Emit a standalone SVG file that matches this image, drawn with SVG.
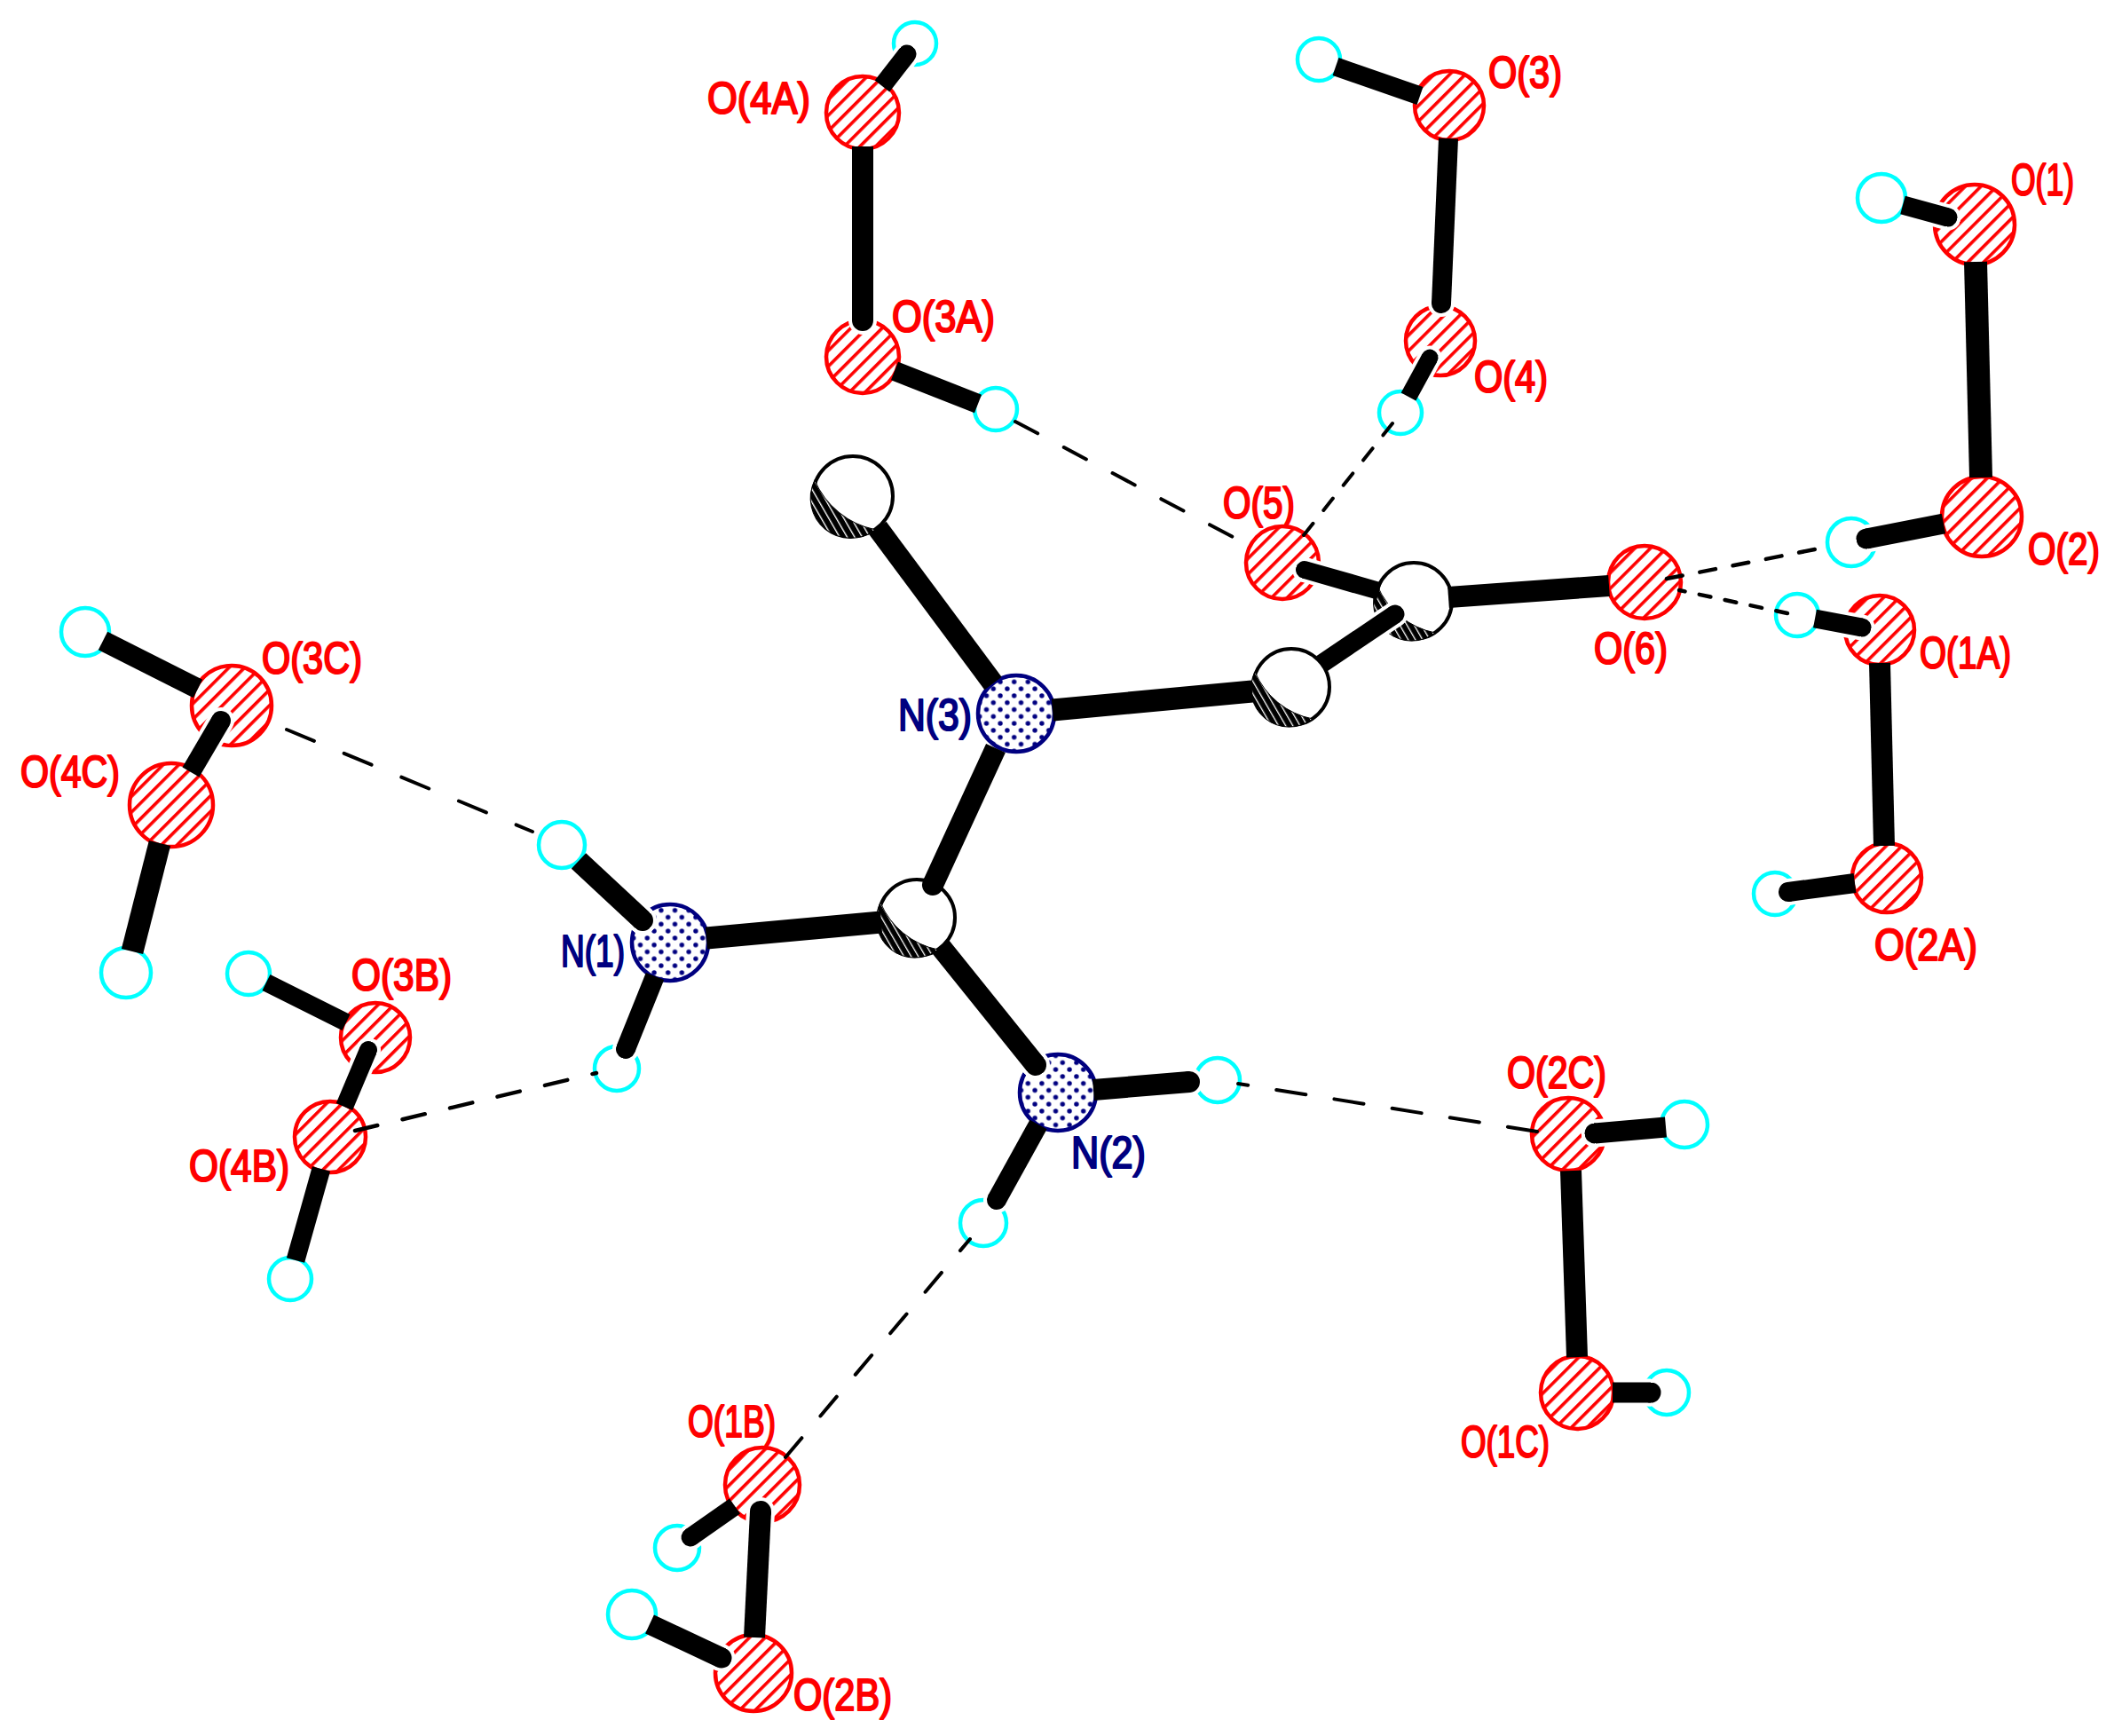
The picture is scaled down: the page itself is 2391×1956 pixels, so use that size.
<svg xmlns="http://www.w3.org/2000/svg" xmlns:xlink="http://www.w3.org/1999/xlink" width="2391" height="1956" viewBox="0 0 2391 1956">
<style>
.o{fill:url(#hatch);stroke:#ff0000;stroke-width:4.5}
.n{fill:url(#dots);stroke:#000080;stroke-width:4.5}
.h{fill:#ffffff;stroke:#00ffff;stroke-width:4.5}
.c{fill:#ffffff;stroke:#000000;stroke-width:4}
text{font-family:"Liberation Sans",Arial,sans-serif;font-size:50px;stroke-width:2.2;stroke-linejoin:round}
.lo{fill:#ff0000;stroke:#ff0000}
.ln{fill:#000080;stroke:#000080}
line{fill:none}
.b{stroke:#000000}
.f{stroke:#000000;marker-end:url(#cap)}
.w{stroke:#ffffff;marker-end:url(#capw)}
.d{stroke:#000000;stroke-linecap:round}
</style>
<defs>
<pattern id="hatch" patternUnits="userSpaceOnUse" width="12.5" height="12.5" patternTransform="rotate(45)"><rect width="12.5" height="12.5" fill="#ffffff"/><rect x="0" width="3.6" height="12.5" fill="#ff0000"/></pattern>
<pattern id="dots" patternUnits="userSpaceOnUse" width="15.6" height="15.6"><rect width="15.6" height="15.6" fill="#ffffff"/><circle cx="3.9" cy="3.9" r="2.7" fill="#000080"/><circle cx="11.7" cy="11.7" r="2.7" fill="#000080"/></pattern>
<pattern id="shade" patternUnits="userSpaceOnUse" width="7" height="7" patternTransform="rotate(-30)"><rect width="7" height="7" fill="#000000"/><rect width="1.3" height="7" fill="#ffffff"/></pattern>
<marker id="cap" viewBox="-1 -1 2 2" markerWidth="1" markerHeight="1" orient="auto"><circle r="1" fill="#000000"/></marker>
<marker id="capw" viewBox="-1 -1 2 2" markerWidth="1" markerHeight="1" orient="auto"><circle r="1" fill="#ffffff"/></marker>
<path id="crescent" d="M-41 -17A43 43 0 0 0 24 36A90 90 0 0 1 -41 -17Z" fill="url(#shade)" stroke="#000000" stroke-width="1"/>
</defs>
<rect width="2391" height="1956" fill="#ffffff"/>
<g id="nodes">
<g id="O1"><circle class="o" cx="2225" cy="253" r="45"/><text class="lo" x="2266" y="220" textLength="71" lengthAdjust="spacingAndGlyphs">O(1)</text></g>
<g id="O2"><circle class="o" cx="2233" cy="582" r="45"/><text class="lo" x="2285" y="636" textLength="81" lengthAdjust="spacingAndGlyphs">O(2)</text></g>
<g id="O3"><circle class="o" cx="1633" cy="119" r="39"/><text class="lo" x="1677" y="99" textLength="83" lengthAdjust="spacingAndGlyphs">O(3)</text></g>
<g id="O4"><circle class="o" cx="1623" cy="384" r="39"/><text class="lo" x="1661" y="442" textLength="83" lengthAdjust="spacingAndGlyphs">O(4)</text></g>
<g id="O5"><circle class="o" cx="1445" cy="634" r="41"/><text class="lo" x="1378" y="584" textLength="81" lengthAdjust="spacingAndGlyphs">O(5)</text></g>
<g id="O6"><circle class="o" cx="1853" cy="656" r="41"/><text class="lo" x="1796" y="748" textLength="83" lengthAdjust="spacingAndGlyphs">O(6)</text></g>
<g id="O1A"><circle class="o" cx="2118" cy="710" r="39"/><text class="lo" x="2163" y="753" textLength="103" lengthAdjust="spacingAndGlyphs">O(1A)</text></g>
<g id="O2A"><circle class="o" cx="2126" cy="989" r="39"/><text class="lo" x="2112" y="1082" textLength="116" lengthAdjust="spacingAndGlyphs">O(2A)</text></g>
<g id="O1B"><circle class="o" cx="859" cy="1673" r="42"/><text class="lo" x="775" y="1619" textLength="99" lengthAdjust="spacingAndGlyphs">O(1B)</text></g>
<g id="O2B"><circle class="o" cx="849" cy="1885" r="43"/><text class="lo" x="894" y="1927" textLength="111" lengthAdjust="spacingAndGlyphs">O(2B)</text></g>
<g id="O1C"><circle class="o" cx="1777" cy="1569" r="41"/><text class="lo" x="1646" y="1642" textLength="100" lengthAdjust="spacingAndGlyphs">O(1C)</text></g>
<g id="O2C"><circle class="o" cx="1767" cy="1278" r="41"/><text class="lo" x="1698" y="1226" textLength="112" lengthAdjust="spacingAndGlyphs">O(2C)</text></g>
<g id="O3A"><circle class="o" cx="972" cy="402" r="41"/><text class="lo" x="1005" y="374" textLength="116" lengthAdjust="spacingAndGlyphs">O(3A)</text></g>
<g id="O4A"><circle class="o" cx="972" cy="127" r="41"/><text class="lo" x="797" y="128" textLength="116" lengthAdjust="spacingAndGlyphs">O(4A)</text></g>
<g id="O3B"><circle class="o" cx="423" cy="1169" r="39"/><text class="lo" x="396" y="1116" textLength="113" lengthAdjust="spacingAndGlyphs">O(3B)</text></g>
<g id="O4B"><circle class="o" cx="372" cy="1281" r="40"/><text class="lo" x="213" y="1331" textLength="113" lengthAdjust="spacingAndGlyphs">O(4B)</text></g>
<g id="O3C"><circle class="o" cx="261" cy="795" r="45"/><text class="lo" x="295" y="759" textLength="113" lengthAdjust="spacingAndGlyphs">O(3C)</text></g>
<g id="O4C"><circle class="o" cx="193" cy="907" r="47"/><text class="lo" x="23" y="887" textLength="112" lengthAdjust="spacingAndGlyphs">O(4C)</text></g>
<g id="N1"><circle class="n" cx="755" cy="1062" r="43"/><text class="ln" x="632" y="1089" textLength="72" lengthAdjust="spacingAndGlyphs">N(1)</text></g>
<g id="N2"><circle class="n" cx="1192" cy="1231" r="43"/><text class="ln" x="1207" y="1316" textLength="84" lengthAdjust="spacingAndGlyphs">N(2)</text></g>
<g id="N3"><circle class="n" cx="1145" cy="804" r="43"/><text class="ln" x="1012" y="823" textLength="83" lengthAdjust="spacingAndGlyphs">N(3)</text></g>
<g id="C1"><circle class="c" cx="1033" cy="1034" r="43"/><use href="#crescent" transform="translate(1033 1034)"/></g>
<g id="C2"><circle class="c" cx="1455" cy="774" r="43"/><use href="#crescent" transform="translate(1455 774)"/></g>
<g id="C3"><circle class="c" cx="1593" cy="677" r="43"/><use href="#crescent" transform="translate(1593 677)"/></g>
<g id="C4"><circle class="c" cx="961" cy="559" r="45"/><use href="#crescent" transform="translate(961 559) scale(1.05)"/></g>
<g id="H1"><circle class="h" cx="2120" cy="223" r="27"/></g>
<g id="H2"><circle class="h" cx="2086" cy="611" r="27"/></g>
<g id="H3"><circle class="h" cx="1486" cy="67" r="24"/></g>
<g id="H4"><circle class="h" cx="1578" cy="465" r="24"/></g>
<g id="H1A"><circle class="h" cx="2025" cy="693" r="24"/></g>
<g id="H2A"><circle class="h" cx="2000" cy="1007" r="24"/></g>
<g id="H3A"><circle class="h" cx="1122" cy="461" r="24"/></g>
<g id="H4A"><circle class="h" cx="1031" cy="49" r="24"/></g>
<g id="H1B"><circle class="h" cx="763" cy="1744" r="25"/></g>
<g id="H2B"><circle class="h" cx="712" cy="1819" r="27"/></g>
<g id="H1C"><circle class="h" cx="1878" cy="1569" r="25"/></g>
<g id="H2C"><circle class="h" cx="1898" cy="1267" r="26"/></g>
<g id="H3B"><circle class="h" cx="280" cy="1097" r="24"/></g>
<g id="H4B"><circle class="h" cx="327" cy="1441" r="24"/></g>
<g id="H3C"><circle class="h" cx="96" cy="712" r="27"/></g>
<g id="H4C"><circle class="h" cx="142" cy="1096" r="28"/></g>
<g id="HN1a"><circle class="h" cx="633" cy="952" r="26"/></g>
<g id="HN1b"><circle class="h" cx="695" cy="1204" r="25"/></g>
<g id="HN2a"><circle class="h" cx="1372" cy="1217" r="25"/></g>
<g id="HN2b"><circle class="h" cx="1108" cy="1378" r="26"/></g>
</g>
<g id="connectors">
<line class="b" x1="2226" y1="295" x2="2232" y2="538" stroke-width="26"/>
<line class="b" x1="1632" y1="673" x2="1813" y2="660" stroke-width="24"/>
<line class="b" x1="1411" y1="779" x2="1186" y2="800" stroke-width="25"/>
<line class="b" x1="989" y1="595" x2="1119" y2="770" stroke-width="24"/>
<line class="b" x1="993" y1="1039" x2="796" y2="1057" stroke-width="25"/>
<line class="b" x1="116" y1="722" x2="223" y2="776" stroke-width="23"/>
<line class="b" x1="300" y1="1107" x2="390" y2="1152" stroke-width="20"/>
<line class="b" x1="362" y1="1317" x2="333" y2="1420" stroke-width="21"/>
<line class="b" x1="180" y1="950" x2="149" y2="1072" stroke-width="25"/>
<line class="b" x1="1008" y1="418" x2="1102" y2="455" stroke-width="22"/>
<line class="b" x1="1505" y1="75" x2="1600" y2="108" stroke-width="21"/>
<line class="b" x1="1770" y1="1319" x2="1777" y2="1529" stroke-width="24"/>
<line class="b" x1="2118" y1="747" x2="2123" y2="953" stroke-width="24"/>
<line class="w" x1="2170" y1="238" x2="2195" y2="245" stroke-width="29"/><line class="f" x1="2144" y1="231" x2="2195" y2="245" stroke-width="21"/>
<line class="w" x1="2146" y1="599" x2="2103" y2="607" stroke-width="31"/><line class="f" x1="2190" y1="590" x2="2103" y2="607" stroke-width="23"/>
<line class="w" x1="2071" y1="702" x2="2098" y2="707" stroke-width="29"/><line class="f" x1="2045" y1="697" x2="2098" y2="707" stroke-width="21"/>
<line class="w" x1="2052" y1="1000" x2="2015" y2="1005" stroke-width="30"/><line class="f" x1="2090" y1="995" x2="2015" y2="1005" stroke-width="22"/>
<line class="w" x1="1512" y1="654" x2="1470" y2="642" stroke-width="28"/><line class="f" x1="1554" y1="666" x2="1470" y2="642" stroke-width="20"/>
<line class="w" x1="1530" y1="720" x2="1572" y2="692" stroke-width="29"/><line class="f" x1="1489" y1="748" x2="1572" y2="692" stroke-width="21"/>
<line class="f" x1="1122" y1="843" x2="1051" y2="997" stroke-width="24"/>
<line class="w" x1="1113" y1="1133" x2="1167" y2="1200" stroke-width="32"/><line class="f" x1="1060" y1="1067" x2="1167" y2="1200" stroke-width="24"/>
<line class="w" x1="688" y1="1003" x2="724" y2="1037" stroke-width="32"/><line class="f" x1="652" y1="970" x2="724" y2="1037" stroke-width="24"/>
<line class="w" x1="721" y1="1141" x2="705" y2="1182" stroke-width="30"/><line class="f" x1="738" y1="1100" x2="705" y2="1182" stroke-width="22"/>
<line class="w" x1="1286" y1="1223" x2="1340" y2="1219" stroke-width="32"/><line class="f" x1="1232" y1="1228" x2="1340" y2="1219" stroke-width="24"/>
<line class="w" x1="1146" y1="1310" x2="1123" y2="1352" stroke-width="30"/><line class="f" x1="1170" y1="1267" x2="1123" y2="1352" stroke-width="22"/>
<line class="w" x1="232" y1="841" x2="249" y2="812" stroke-width="30"/><line class="f" x1="215" y1="870" x2="249" y2="812" stroke-width="22"/>
<line class="w" x1="401" y1="1215" x2="415" y2="1183" stroke-width="28"/><line class="f" x1="388" y1="1247" x2="415" y2="1183" stroke-width="20"/>
<line class="w" x1="803" y1="1714" x2="778" y2="1732" stroke-width="29"/><line class="f" x1="828" y1="1697" x2="778" y2="1732" stroke-width="21"/>
<line class="w" x1="853" y1="1774" x2="857" y2="1703" stroke-width="32"/><line class="f" x1="850" y1="1845" x2="857" y2="1703" stroke-width="24"/>
<line class="w" x1="772" y1="1849" x2="813" y2="1868" stroke-width="31"/><line class="f" x1="732" y1="1830" x2="813" y2="1868" stroke-width="23"/>
<line class="w" x1="1008" y1="79" x2="1022" y2="61" stroke-width="29"/><line class="f" x1="994" y1="97" x2="1022" y2="61" stroke-width="21"/>
<line class="w" x1="972" y1="263" x2="972" y2="361" stroke-width="32"/><line class="f" x1="972" y1="165" x2="972" y2="361" stroke-width="24"/>
<line class="w" x1="1628" y1="249" x2="1624" y2="342" stroke-width="30"/><line class="f" x1="1632" y1="156" x2="1624" y2="342" stroke-width="22"/>
<line class="w" x1="1599" y1="425" x2="1611" y2="403" stroke-width="27"/><line class="f" x1="1587" y1="447" x2="1611" y2="403" stroke-width="19"/>
<line class="w" x1="1837" y1="1273" x2="1797" y2="1277" stroke-width="31"/><line class="f" x1="1877" y1="1270" x2="1797" y2="1277" stroke-width="23"/>
<line class="w" x1="1838" y1="1569" x2="1860" y2="1569" stroke-width="31"/><line class="f" x1="1817" y1="1569" x2="1860" y2="1569" stroke-width="23"/>
<line class="d" x1="400" y1="1274" x2="672" y2="1209" stroke-width="4.5" stroke-dasharray="26 29"/>
<line class="d" x1="1878" y1="652" x2="2050" y2="618" stroke-width="4.5" stroke-dasharray="18 20"/>
<line class="d" x1="2014" y1="691" x2="1892" y2="665" stroke-width="4.5" stroke-dasharray="13 16.5"/>
<line class="d" x1="1144" y1="475" x2="1391" y2="606" stroke-width="4" stroke-dasharray="28.5 33.5"/>
<line class="d" x1="1569" y1="477" x2="1469" y2="603" stroke-width="4" stroke-dasharray="17 19"/>
<line class="d" x1="323" y1="822" x2="600" y2="937" stroke-width="4" stroke-dasharray="33.5 36.5"/>
<line class="d" x1="1732" y1="1275" x2="1395" y2="1221" stroke-width="4" stroke-dasharray="33.5 32.5"/>
<line class="d" x1="885" y1="1642" x2="1093" y2="1396" stroke-width="4" stroke-dasharray="28.5 32.5"/>
</g>
</svg>
